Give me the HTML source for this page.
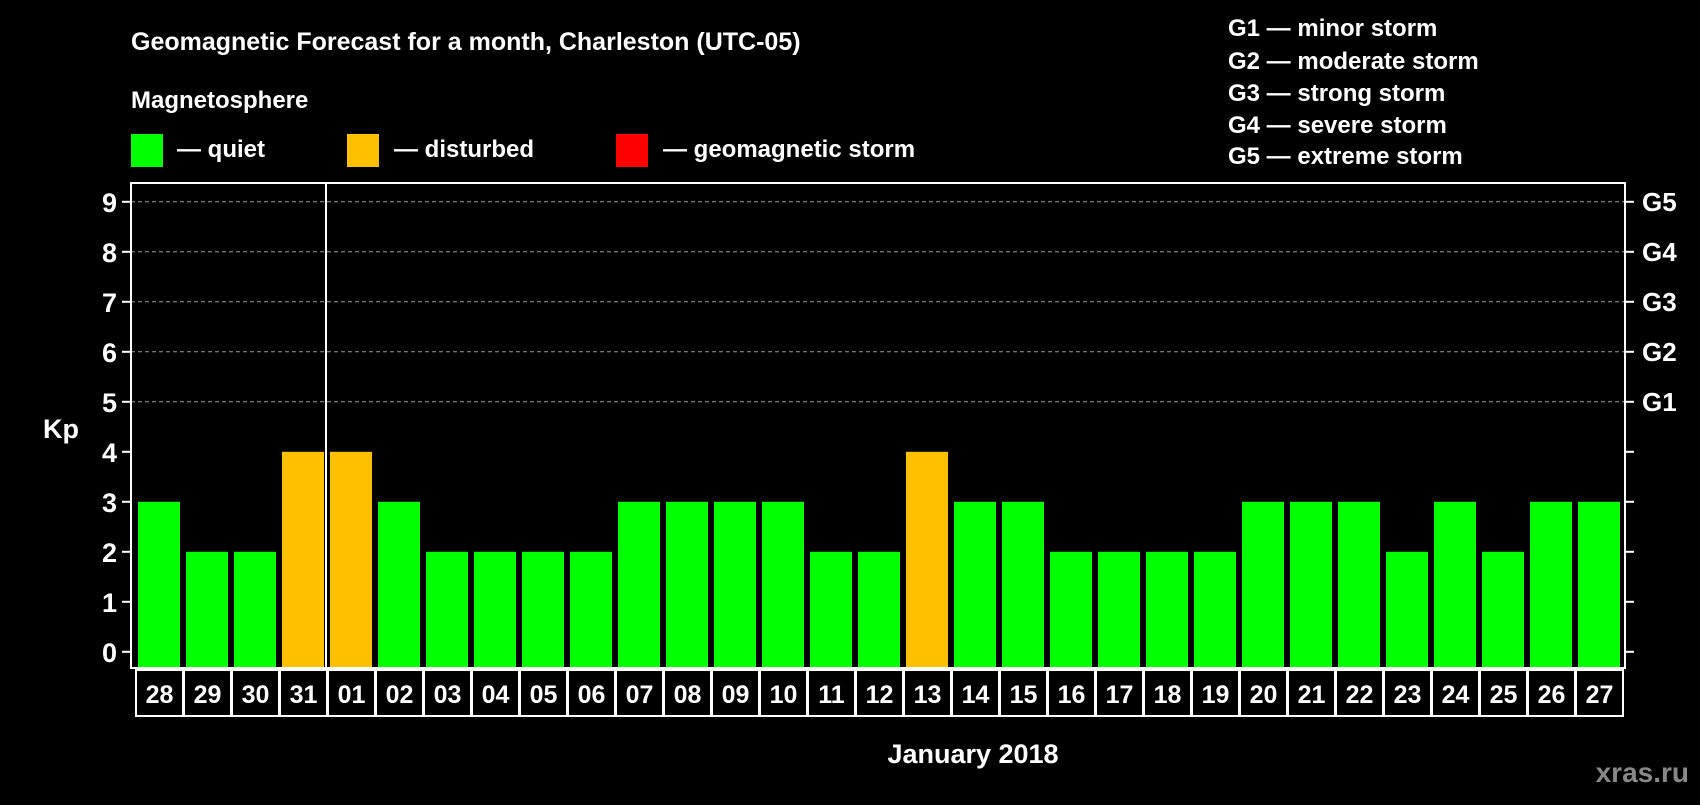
<!DOCTYPE html>
<html><head><meta charset="utf-8"><style>
body{margin:0;background:#000;width:1700px;height:800px;overflow:hidden}
svg text{font-family:"Liberation Sans",sans-serif;font-weight:bold;fill:#fff}
</style></head><body>
<svg id="c" width="1700" height="800" xmlns="http://www.w3.org/2000/svg">
<text x="131" y="50" font-size="25">Geomagnetic Forecast for a month, Charleston (UTC-05)</text>
<text x="131" y="108" font-size="24">Magnetosphere</text>
<rect x="131" y="134" width="32" height="33" fill="#00ff00"/>
<text x="177" y="157" font-size="24">— quiet</text>
<rect x="347" y="134" width="32" height="33" fill="#ffc000"/>
<text x="394" y="157" font-size="24">— disturbed</text>
<rect x="616" y="134" width="32" height="33" fill="#ff0000"/>
<text x="663" y="157" font-size="24">— geomagnetic storm</text>
<g font-size="24">
<text x="1228" y="36">G1 — minor storm</text>
<text x="1228" y="69">G2 — moderate storm</text>
<text x="1228" y="101">G3 — strong storm</text>
<text x="1228" y="133">G4 — severe storm</text>
<text x="1228" y="164">G5 — extreme storm</text>
</g>
<text x="43" y="438" font-size="27">Kp</text>
<text x="973" y="763" font-size="27" text-anchor="middle">January 2018</text>
<text x="1689" y="782" font-size="28" text-anchor="end" style="fill:#888">xras.ru</text>
<g id="grid"></g><g id="bars"></g><g id="axes"></g>
</svg>
<script>
const days=["28","29","30","31","01","02","03","04","05","06","07","08","09","10","11","12","13","14","15","16","17","18","19","20","21","22","23","24","25","26","27"];
const kp=[3,2,2,4,4,3,2,2,2,2,3,3,3,3,2,2,4,3,3,2,2,2,2,3,3,3,2,3,2,3,3];
const yTicks=[0,1,2,3,4,5,6,7,8,9];
const gLabels=["","","","","","G1","G2","G3","G4","G5"];
const NS="http://www.w3.org/2000/svg";
const L=131,R=1625,T=183,B=668;
const y=v=>651.8-v*50;
const x=i=>135+i*48;
function mk(tag,attrs,parent,text){const e=document.createElementNS(NS,tag);for(const k in attrs)e.setAttribute(k,attrs[k]);if(text!==undefined)e.textContent=text;parent.appendChild(e);return e;}
const grid=document.getElementById('grid'),bars=document.getElementById('bars'),axes=document.getElementById('axes');
yTicks.forEach((v,i)=>{
 if(v>=5){const g=mk('line',{x1:L,x2:R,y1:y(v),y2:y(v),stroke:'#999','stroke-dasharray':'4,3','stroke-width':1},grid);
 
 }
 const t1=mk('line',{x1:L-9,x2:L,y1:y(v),y2:y(v),stroke:'#fff','stroke-width':2},axes);
 
 
 const t2=mk('line',{x1:R,x2:R+9,y1:y(v),y2:y(v),stroke:'#fff','stroke-width':2},axes);
 
 
 const lb=mk('text',{x:117,y:y(v)+10,'font-size':27,'text-anchor':'end'},axes,String(v));
 
 
 if(gLabels[i]){const gl=mk('text',{x:1642,y:y(v)+9,'font-size':26},axes,gLabels[i]);
 
 }
});
days.forEach((d,i)=>{
 const v=kp[i];const col=v>=5?'#ff0000':(v>=4?'#ffc000':'#00ff00');
 const b=mk('rect',{x:x(i)+3,y:y(v),width:42,height:B-1-y(v),fill:col},bars);
 
 
 const c=mk('rect',{x:x(i)+1,y:670,width:47,height:46,fill:'none',stroke:'#fff','stroke-width':2},axes);
 
 
 const t=mk('text',{x:x(i)+24.5,y:703,'font-size':25,'text-anchor':'middle'},axes,d);
 
 
});
const fr=mk('rect',{x:L,y:T,width:R-L,height:B-T,fill:'none',stroke:'#fff','stroke-width':2},axes);


const sep=x(4)-1;
const sl=mk('line',{x1:sep,x2:sep,y1:T,y2:B,stroke:'#fff','stroke-width':2},axes);


</script>
</body></html>
